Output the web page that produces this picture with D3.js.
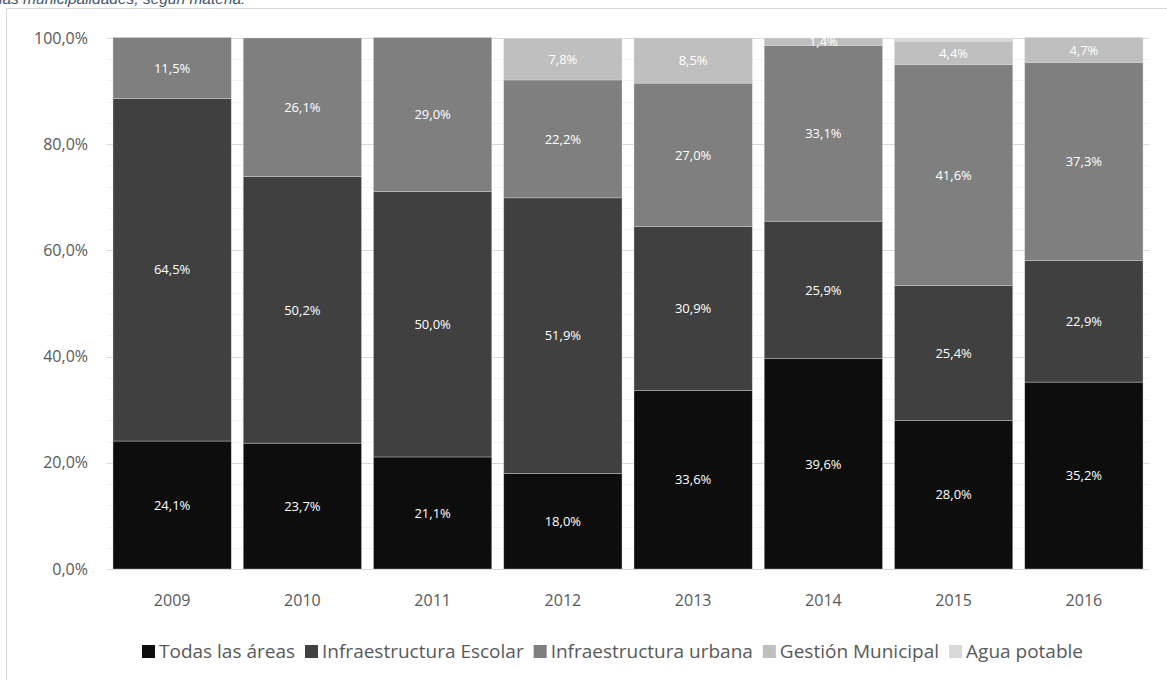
<!DOCTYPE html>
<html>
<head>
<meta charset="utf-8">
<script src="https://cdn.jsdelivr.net/npm/d3@7"></script>
<style>
  html, body { margin: 0; padding: 0; background: #fff; }
  svg { display: block; }
</style>
</head>
<body>
<svg id="chart" width="1167" height="680"></svg>
<script>
// Years on the x axis
const years = ["2009", "2010", "2011", "2012", "2013", "2014", "2015", "2016"];

// Share of each subject per year (%)
const todasLasAreas          = [24.1, 23.7, 21.1, 18.0, 33.6, 39.6, 28.0, 35.2];
const infraestructuraEscolar = [64.5, 50.2, 50.0, 51.9, 30.9, 25.9, 25.4, 22.9];
const infraestructuraUrbana  = [11.5, 26.1, 29.0, 22.2, 27.0, 33.1, 41.6, 37.3];
const gestionMunicipal       = [0, 0, 0, 7.8, 8.5, 1.4, 4.4, 4.7];
const aguaPotable            = [0, 0, 0, 0, 0, 0, 0.6, 0];

const seriesNames = ["Todas las áreas", "Infraestructura Escolar", "Infraestructura urbana", "Gestión Municipal", "Agua potable"];
const seriesValues = [todasLasAreas, infraestructuraEscolar, infraestructuraUrbana, gestionMunicipal, aguaPotable];
const seriesColors = ["#0d0d0d", "#404040", "#7f7f7f", "#bfbfbf", "#d9d9d9"];
// Segments whose value is shown as a label (Agua potable is too thin)
const seriesLabelled = [true, true, true, true, false];

const yTicks = [0, 20, 40, 60, 80, 100];

const svg = d3.select("#chart");
const fmt = v => d3.format(".1f")(v).replace(".", ",") + "%";

// Caption line, partly above the visible area
svg.append("text")
  .attr("x", -1).attr("y", 4)
  .attr("font-family", "Liberation Sans, Arial, sans-serif")
  .attr("font-style", "italic")
  .attr("font-size", 15.5)
  .attr("fill", "#44546a")
  .text("las municipalidades, según materia.");

// Chart frame
svg.append("rect")
  .attr("x", 6.5).attr("y", 8.5)
  .attr("width", 1170).attr("height", 680)
  .attr("fill", "none")
  .attr("stroke", "#d9d9d9")
  .attr("stroke-width", 1);

const plot = { left: 107, right: 1149, top: 38, bottom: 569 };

const x = d3.scaleBand()
  .domain(years)
  .range([plot.left, plot.right])
  .paddingInner(0.092)
  .paddingOuter(0.046);

const y = d3.scaleLinear()
  .domain([0, 100])
  .range([plot.bottom, plot.top]);

// Minor gridlines every 4%
svg.append("g")
  .selectAll("line")
  .data(d3.range(4, 100, 4).filter(v => v % 20 !== 0))
  .join("line")
  .attr("x1", plot.left).attr("x2", plot.right)
  .attr("y1", d => Math.round(y(d)) + 0.5).attr("y2", d => Math.round(y(d)) + 0.5)
  .attr("stroke", "#f2f2f2");

// Major gridlines
svg.append("g")
  .selectAll("line")
  .data(yTicks)
  .join("line")
  .attr("x1", plot.left).attr("x2", plot.right)
  .attr("y1", d => Math.round(y(d)) + 0.5).attr("y2", d => Math.round(y(d)) + 0.5)
  .attr("stroke", "#d9d9d9");

// Stack the series
const rows = years.map((yr, i) => {
  const r = { year: yr };
  seriesNames.forEach((n, k) => { r[n] = seriesValues[k][i]; });
  return r;
});
const stacked = d3.stack().keys(seriesNames)(rows);

const layers = svg.append("g")
  .selectAll("g")
  .data(stacked)
  .join("g")
  .attr("fill", (d, k) => seriesColors[k]);

layers.selectAll("rect")
  .data(d => d.filter(s => s[1] - s[0] > 0))
  .join("rect")
  .attr("x", s => x(s.data.year))
  .attr("width", x.bandwidth())
  .attr("y", s => y(s[1]))
  .attr("height", s => y(s[0]) - y(s[1]))
  .attr("stroke", "#e0e0e0")
  .attr("stroke-width", 0.6)
  .attr("stroke-opacity", 0.6);

// Value labels
stacked.forEach((layer, k) => {
  if (!seriesLabelled[k]) return;
  svg.append("g")
    .selectAll("text")
    .data(layer.filter(s => s[1] - s[0] > 0))
    .join("text")
    .attr("x", s => x(s.data.year) + x.bandwidth() / 2)
    .attr("y", s => y((s[0] + s[1]) / 2))
    .attr("dy", "0.36em")
    .attr("text-anchor", "middle")
    .attr("font-family", "Open Sans, sans-serif")
    .attr("font-size", 13)
    .attr("fill", "#ffffff")
    .text(s => fmt(s[1] - s[0]));
});

// Y axis
const yAxis = d3.axisLeft(y).tickValues(yTicks).tickSize(0).tickPadding(0)
  .tickFormat(v => d3.format(".1f")(v).replace(".", ",") + "%");
const gy = svg.append("g").attr("transform", `translate(${plot.left - 19},0)`).call(yAxis);
gy.select(".domain").remove();
gy.selectAll("text")
  .attr("font-family", "Open Sans, sans-serif")
  .attr("font-size", 16)
  .attr("fill", "#595959");

// X axis
const xAxis = d3.axisBottom(x).tickSize(0).tickPadding(0);
const gx = svg.append("g").attr("transform", `translate(0,${plot.bottom + 26})`).call(xAxis);
gx.select(".domain").remove();
gx.selectAll("text")
  .attr("font-family", "Open Sans, sans-serif")
  .attr("font-size", 16)
  .attr("fill", "#595959");

// Legend
const legend = svg.append("g").attr("transform", "translate(0,658)");
const legendFont = 19;
const itemGap = 10;
const items = legend.selectAll("g").data(seriesNames).join("g");
items.append("rect")
  .attr("width", 13).attr("height", 13)
  .attr("y", -13)
  .attr("fill", (d, k) => seriesColors[k]);
items.append("text")
  .attr("x", 17)
  .attr("font-family", "Open Sans, sans-serif")
  .attr("font-size", legendFont)
  .attr("fill", "#595959")
  .text(d => d);
// Lay out items side by side, centred
let cursor = 0;
const positions = [];
items.each(function () {
  const t = d3.select(this).select("text").node();
  const w = 17 + t.getComputedTextLength();
  positions.push(cursor);
  cursor += w + itemGap;
});
const total = cursor - itemGap;
const start = (117 + 1108) / 2 - total / 2;
items.attr("transform", (d, i) => `translate(${start + positions[i]},0)`);
</script>
</body>
</html>
